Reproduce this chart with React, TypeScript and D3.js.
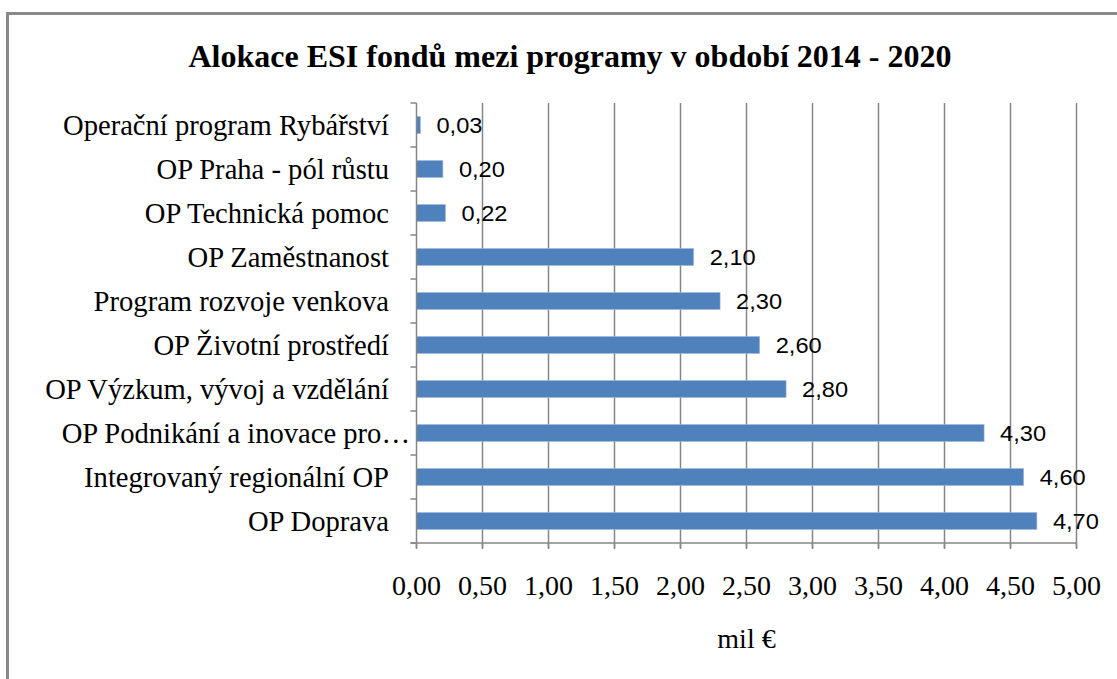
import * as d3 from "d3";

// program names, top to bottom as shown
const categories = [
  "Operační program Rybářství",
  "OP Praha - pól růstu",
  "OP Technická pomoc",
  "OP Zaměstnanost",
  "Program rozvoje venkova",
  "OP Životní prostředí",
  "OP Výzkum, vývoj a vzdělání",
  "OP Podnikání a inovace pro…",
  "Integrovaný regionální OP",
  "OP Doprava",
];
const allocations = [0.03, 0.2, 0.22, 2.1, 2.3, 2.6, 2.8, 4.3, 4.6, 4.7];
const xTicks = [0, 0.5, 1, 1.5, 2, 2.5, 3, 3.5, 4, 4.5, 5];

const title = "Alokace ESI fondů mezi programy v období 2014 - 2020";
const axisTitle = "mil €";

const W = 1117;
const H = 679;
const serif = "'Liberation Serif', 'Times New Roman', serif";
const sans = "'Liberation Sans', Arial, sans-serif";
const gridColor = "#868686";
const barColor = "#4f81bd";

const fmt = (v: number) => v.toFixed(2).replace(".", ",");

const Txt = ({ x, y, anchor = "start", size, family, weight = "normal", sx = 1, children }: any) => (
  <text
    transform={`translate(${x},${y}) scale(${sx},1)`}
    textAnchor={anchor}
    dominantBaseline="central"
    fontSize={size}
    fontFamily={family}
    fontWeight={weight}
    fill="#000"
  >
    {children}
  </text>
);

export default function App() {
  const x = d3.scaleLinear().domain([0, 5]).range([416.5, 1076.5]);
  const y = d3
    .scaleBand<string>()
    .domain(categories)
    .range([103, 543])
    .paddingInner(0.61)
    .paddingOuter(0.305);
  const step = y.step();
  const bounds = d3.range(categories.length + 1).map((i) => 103 + i * step);
  const [x0, x1] = x.range();

  return (
    <div style={{ position: "absolute", left: 0, top: 0 }}>
      <svg width={W} height={H} style={{ display: "block", background: "#fff" }}>
        {/* chart frame, runs past the picture on the right and bottom */}
        <rect x={7.5} y={13.5} width={W + 20} height={H + 20} fill="none" stroke="#8a8a8a" strokeWidth={3} />

        <Txt x={570} y={56} anchor="middle" size={32} family={serif} weight="bold">
          {title}
        </Txt>

        {/* vertical gridlines */}
        {xTicks.slice(1).map((t) => (
          <line key={t} x1={x(t)} x2={x(t)} y1={103} y2={548} stroke={gridColor} strokeWidth={1.5} />
        ))}

        {/* bars */}
        {categories.map((c, i) => (
          <rect
            key={c}
            x={x0}
            y={y(c)}
            width={x(allocations[i]) - x0}
            height={y.bandwidth()}
            fill={barColor}
            stroke="#a7bfde"
            strokeWidth={0.6}
          />
        ))}

        {/* value labels */}
        {categories.map((c, i) => (
          <Txt key={c} x={x(allocations[i]) + 16} y={(y(c) ?? 0) + y.bandwidth() / 2} size={22.5} sx={1.05} family={sans}>
            {fmt(allocations[i])}
          </Txt>
        ))}

        {/* category axis */}
        <line x1={x0} x2={x0} y1={103} y2={548} stroke={gridColor} strokeWidth={1.5} />
        {bounds.map((b) => (
          <line key={b} x1={x0 - 6} x2={x0} y1={b} y2={b} stroke={gridColor} strokeWidth={1.5} />
        ))}
        {categories.map((c) => (
          <Txt
            key={c}
            x={c.endsWith("…") ? 410 : 389}
            y={(y(c) ?? 0) + y.bandwidth() / 2}
            anchor="end"
            size={28.6}
            family={serif}
          >
            {c}
          </Txt>
        ))}

        {/* value axis */}
        <line x1={x0 - 6} x2={x1} y1={543} y2={543} stroke={gridColor} strokeWidth={1.5} />
        {xTicks.map((t) => (
          <line key={t} x1={x(t)} x2={x(t)} y1={543} y2={549} stroke={gridColor} strokeWidth={1.5} />
        ))}
        {xTicks.map((t) => (
          <Txt key={t} x={x(t)} y={585} anchor="middle" size={28} family={serif}>
            {fmt(t)}
          </Txt>
        ))}
        <Txt x={(x0 + x1) / 2} y={638} anchor="middle" size={28} family={serif}>
          {axisTitle}
        </Txt>
      </svg>
    </div>
  );
}
